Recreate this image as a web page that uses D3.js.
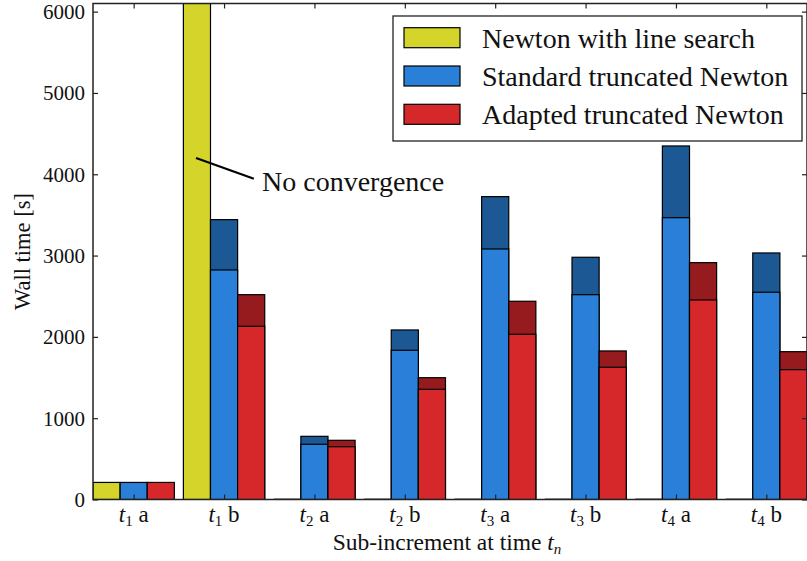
<!DOCTYPE html>
<html>
<head>
<meta charset="utf-8">
<script src="https://cdn.jsdelivr.net/npm/d3@7"></script>
<style>
  body { margin: 0; background: #fff; }
  svg { display: block; font-family: "Liberation Serif", "DejaVu Serif", serif; }
</style>
</head>
<body>
<svg id="chart" width="807" height="561"></svg>
<script>
// ---- data ----
const categories = [
  {t: "1", s: "a"}, {t: "1", s: "b"}, {t: "2", s: "a"}, {t: "2", s: "b"},
  {t: "3", s: "a"}, {t: "3", s: "b"}, {t: "4", s: "a"}, {t: "4", s: "b"}
];
// Newton with line search (null = no convergence, bar runs off the chart)
const newtonLS = [210, null, 0, 0, 0, 0, 0, 0];
// Standard truncated Newton: base part and total
const stdBase  = [210, 2823, 679, 1835, 3081, 2519, 3466, 2549];
const stdTotal = [210, 3442, 777, 2085, 3725, 2979, 4348, 3032];
// Adapted truncated Newton: base part and total
const adpBase  = [210, 2130, 649, 1355, 2032, 1626, 2454, 1597];
const adpTotal = [210, 2519, 728, 1498, 2438, 1827, 2913, 1818];
const yTicks = [0, 1000, 2000, 3000, 4000, 5000, 6000];
const seriesNames = ["Newton with line search", "Standard truncated Newton", "Adapted truncated Newton"];
const yLabel = "Wall time [s]";
const annotationText = "No convergence";

// ---- styling ----
const colors = {
  yellow: "#d4d42a",
  blue: "#2a7fd8", blueDark: "#1c5894",
  red: "#d6282b", redDark: "#961b1e"
};

const svg = d3.select("#chart");
const L = 93, R = 807, T = 3.5, B = 499.5;
const x = d3.scaleLinear().domain([-0.45, 7.45]).range([L, R]);
const y = d3.scaleLinear().domain([0, 6100]).range([B, T]);
const bw = 0.3;

svg.append("clipPath").attr("id", "clip")
  .append("rect").attr("x", L).attr("y", T).attr("width", R - L).attr("height", B - T);
const g = svg.append("g").attr("clip-path", "url(#clip)");

function bar(xi, v0, v1, fill) {
  g.append("rect")
    .attr("x", x(xi)).attr("width", x(xi + bw) - x(xi))
    .attr("y", y(v1)).attr("height", y(v0) - y(v1))
    .attr("fill", fill).attr("stroke", "#000").attr("stroke-width", 1.2);
}

categories.forEach((c, i) => {
  const yv = newtonLS[i];
  if (yv === null) {
    g.append("rect")
      .attr("x", x(i - 0.45)).attr("width", x(i - 0.45 + bw) - x(i - 0.45))
      .attr("y", T - 5).attr("height", y(0) - T + 5)
      .attr("fill", colors.yellow).attr("stroke", "#000").attr("stroke-width", 1.2);
  } else if (yv === 0) {
    g.append("line")
      .attr("x1", x(i - 0.45)).attr("x2", x(i - 0.45 + bw))
      .attr("y1", y(0) - 0.5).attr("y2", y(0) - 0.5)
      .attr("stroke", "#444").attr("stroke-width", 1.2);
  } else {
    bar(i - 0.45, 0, yv, colors.yellow);
  }
  if (stdTotal[i] > stdBase[i]) bar(i - 0.15, 0, stdTotal[i], colors.blueDark);
  bar(i - 0.15, 0, stdBase[i], colors.blue);
  if (adpTotal[i] > adpBase[i]) bar(i + 0.15, 0, adpTotal[i], colors.redDark);
  bar(i + 0.15, 0, adpBase[i], colors.red);
});

// ---- axes ----
const axisColor = "#222";
const tickIdx = categories.map((c, i) => i);
svg.append("g").attr("transform", `translate(${L},0)`)
  .call(d3.axisRight(y).tickValues(yTicks).tickSize(5).tickFormat(""))
  .call(s => s.select(".domain").remove())
  .selectAll("line").attr("stroke", axisColor).attr("stroke-width", 1.2);
svg.append("g").attr("transform", `translate(${R},0)`)
  .call(d3.axisLeft(y).tickValues(yTicks).tickSize(5).tickFormat(""))
  .call(s => s.select(".domain").remove())
  .selectAll("line").attr("stroke", axisColor).attr("stroke-width", 1.2);
svg.append("g").attr("transform", `translate(0,${B})`)
  .call(d3.axisTop(x).tickValues(tickIdx).tickSize(5).tickFormat(""))
  .call(s => s.select(".domain").remove())
  .selectAll("line").attr("stroke", axisColor).attr("stroke-width", 1.2);
svg.append("g").attr("transform", `translate(0,${T})`)
  .call(d3.axisBottom(x).tickValues(tickIdx).tickSize(5).tickFormat(""))
  .call(s => s.select(".domain").remove())
  .selectAll("line").attr("stroke", axisColor).attr("stroke-width", 1.2);
svg.append("rect").attr("x", L).attr("y", T).attr("width", R - L).attr("height", B - T)
  .attr("fill", "none").attr("stroke", axisColor).attr("stroke-width", 1.5);

// y tick labels
svg.append("g").selectAll("text").data(yTicks).join("text")
  .attr("x", L - 8).attr("y", d => y(d) + 7.5)
  .attr("text-anchor", "end").attr("font-size", 21).attr("fill", "#111")
  .text(d => d);

// x tick labels
const xl = svg.append("g").selectAll("text").data(categories).join("text")
  .attr("x", (d, i) => x(i)).attr("y", 522)
  .attr("text-anchor", "middle").attr("font-size", 23).attr("fill", "#111");
xl.append("tspan").attr("font-style", "italic").text("t");
xl.append("tspan").attr("font-size", 15).attr("dy", 4).text(d => d.t);
xl.append("tspan").attr("dy", -4).text(d => " " + d.s);

// x axis label
const xa = svg.append("text").attr("x", (L + R) / 2 - 3).attr("y", 550)
  .attr("text-anchor", "middle").attr("font-size", 23.5).attr("fill", "#111");
xa.append("tspan").text("Sub-increment at time ");
xa.append("tspan").attr("font-style", "italic").text("t");
xa.append("tspan").attr("font-style", "italic").attr("font-size", 15).attr("dy", 4).text("n");

// y axis label
svg.append("text").attr("transform", `translate(30,${(T + B) / 2}) rotate(-90)`)
  .attr("text-anchor", "middle").attr("font-size", 22.5).attr("fill", "#111")
  .text(yLabel);

// annotation
const ann = {from: [0.69, 4200], to: [1.33, 3945], text: [1.42, 3800]};
svg.append("line")
  .attr("x1", x(ann.from[0])).attr("y1", y(ann.from[1]))
  .attr("x2", x(ann.to[0])).attr("y2", y(ann.to[1]))
  .attr("stroke", "#000").attr("stroke-width", 2.2);
svg.append("text").attr("x", x(ann.text[0])).attr("y", y(ann.text[1]))
  .attr("font-size", 28).attr("fill", "#111").text(annotationText);

// legend
const legColors = [colors.yellow, colors.blue, colors.red];
const lg = svg.append("g");
lg.append("rect").attr("x", 393).attr("y", 16).attr("width", 409).attr("height", 125)
  .attr("fill", "#fff").attr("stroke", axisColor).attr("stroke-width", 1.3);
seriesNames.forEach((n, i) => {
  const cy = 37.7 + i * 38.3;
  lg.append("rect").attr("x", 404).attr("y", cy - 10).attr("width", 56).attr("height", 20)
    .attr("fill", legColors[i]).attr("stroke", "#000").attr("stroke-width", 1.2);
  lg.append("text").attr("x", 482).attr("y", cy + 10).attr("font-size", 28).attr("fill", "#111").text(n);
});
</script>
</body>
</html>
